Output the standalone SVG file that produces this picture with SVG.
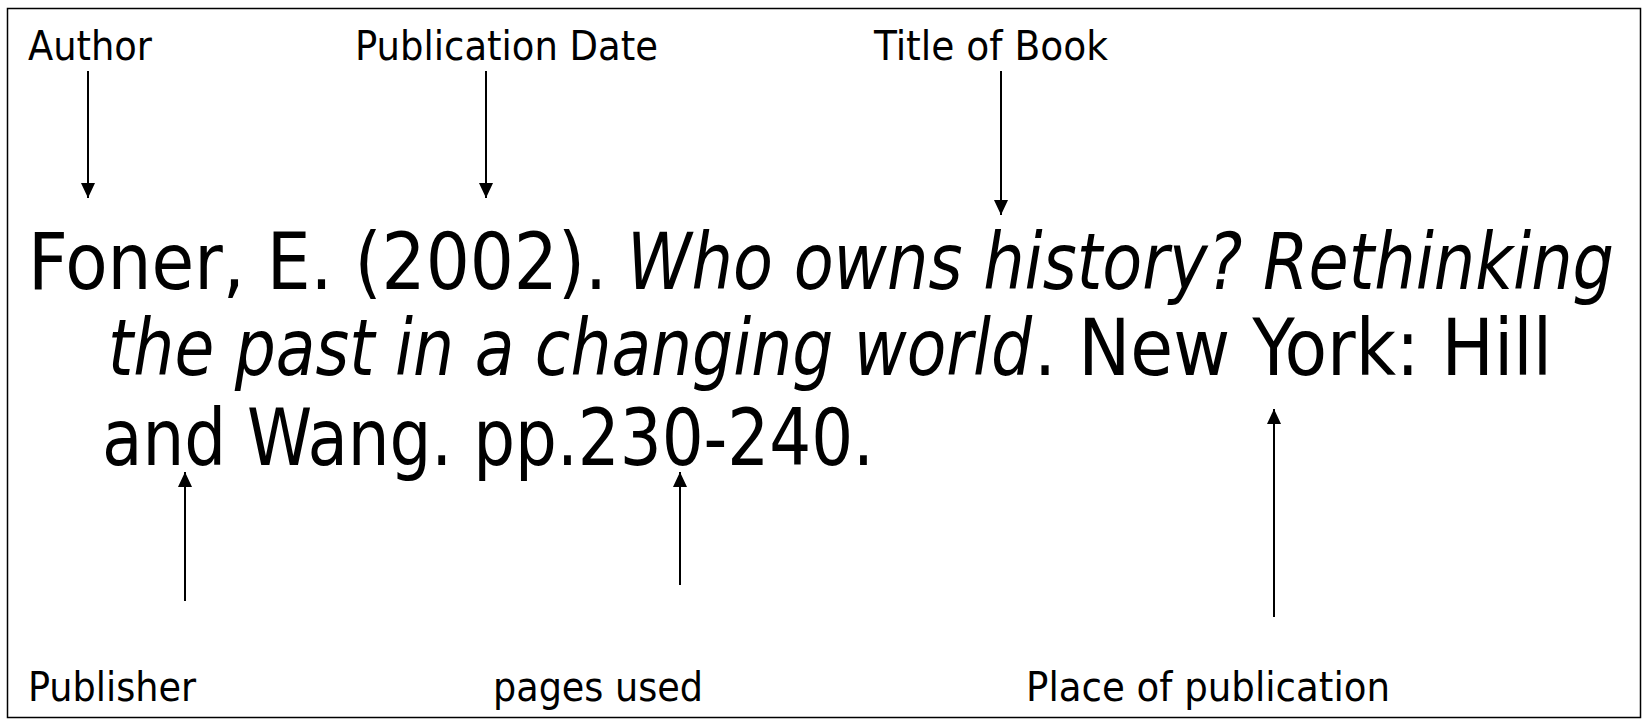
<svg xmlns="http://www.w3.org/2000/svg" width="1646" height="723" viewBox="0 0 1646 723">
<style>
.lbl{font-family:"DejaVu Sans Condensed","DejaVu Sans",sans-serif;font-stretch:condensed;font-size:40px;fill:#000}
.main{font-family:"DejaVu Sans Condensed","DejaVu Sans",sans-serif;font-stretch:condensed;font-size:78px;fill:#000}
.it{font-style:italic}
.arr{stroke:#000;stroke-width:2;fill:none;marker-end:url(#ah)}
</style>
<defs>
<marker id="ah" viewBox="0 0 10 10" refX="10" refY="5" markerUnits="userSpaceOnUse" markerWidth="15" markerHeight="14" orient="auto" preserveAspectRatio="none">
<path d="M0,0 L10,5 L0,10 Z" fill="#000"/>
</marker>
</defs>
<rect x="0" y="0" width="1646" height="723" fill="#fff"/>
<rect id="frame" x="7.5" y="8.5" width="1633" height="709" fill="none" stroke="#000" stroke-width="1.5"/>
<g id="citation">
<text class="main" x="28" y="289" textLength="579" lengthAdjust="spacingAndGlyphs">Foner, E. (2002).</text>
<text class="main it" x="627" y="289" textLength="987" lengthAdjust="spacingAndGlyphs">Who owns history? Rethinking</text>
<text class="main it" x="108" y="375" textLength="924" lengthAdjust="spacingAndGlyphs">the past in a changing world</text>
<text class="main" x="1034" y="375" textLength="518" lengthAdjust="spacingAndGlyphs">. New York: Hill</text>
<text class="main" x="102" y="465" textLength="772" lengthAdjust="spacingAndGlyphs">and Wang. pp.230-240.</text>
</g>
<g id="author"><text class="lbl" x="28" y="60" textLength="124" lengthAdjust="spacingAndGlyphs">Author</text></g>
<g id="pubdate"><text class="lbl" x="355" y="60" textLength="303" lengthAdjust="spacingAndGlyphs">Publication Date</text></g>
<g id="title"><text class="lbl" x="874" y="60" textLength="234" lengthAdjust="spacingAndGlyphs">Title of Book</text></g>
<g id="publisher"><text class="lbl" x="28" y="701" textLength="168" lengthAdjust="spacingAndGlyphs">Publisher</text></g>
<g id="pages"><text class="lbl" x="493" y="701" textLength="210" lengthAdjust="spacingAndGlyphs">pages used</text></g>
<g id="place"><text class="lbl" x="1026" y="701" textLength="364" lengthAdjust="spacingAndGlyphs">Place of publication</text></g>
<g id="connectors">
<line class="arr" x1="88" y1="71" x2="88" y2="198"/>
<line class="arr" x1="486" y1="71" x2="486" y2="198"/>
<line class="arr" x1="1001" y1="71" x2="1001" y2="215"/>
<line class="arr" x1="185" y1="601" x2="185" y2="472"/>
<line class="arr" x1="680" y1="585" x2="680" y2="472"/>
<line class="arr" x1="1274" y1="617" x2="1274" y2="409"/>
</g>
</svg>
